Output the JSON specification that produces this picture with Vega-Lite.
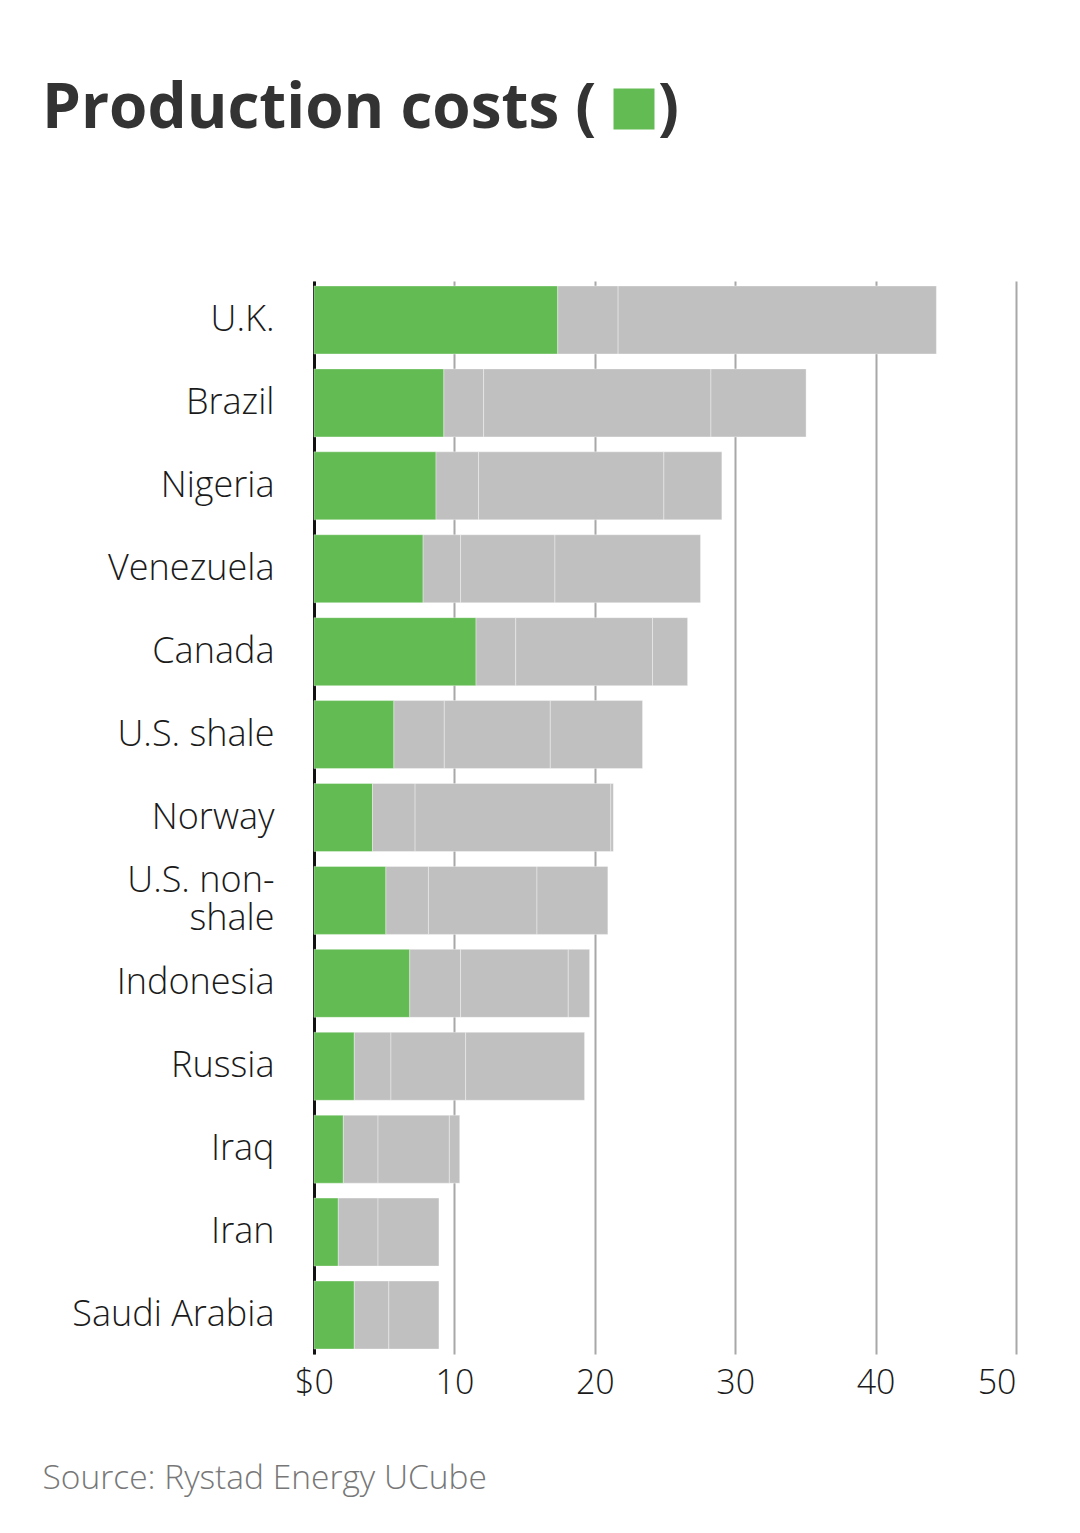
{
  "$schema": "https://vega.github.io/schema/vega-lite/v6.json",
  "autosize": {"type": "none"},
  "width": 702,
  "height": 1073,
  "padding": {"left": 314, "top": 281, "right": 64, "bottom": 179},
  "background": "white",
  "config": {"view": {"stroke": null}},
  "data": {"values": [
    {"country": "U.K.", "seg": "Production costs", "ord": 1, "v": 17.36},
    {"country": "U.K.", "seg": "Administrative and transport", "ord": 2, "v": 4.30},
    {"country": "U.K.", "seg": "Capital spending", "ord": 3, "v": 22.67},
    {"country": "Brazil", "seg": "Production costs", "ord": 1, "v": 9.25},
    {"country": "Brazil", "seg": "Administrative and transport", "ord": 2, "v": 2.83},
    {"country": "Brazil", "seg": "Capital spending", "ord": 3, "v": 16.19},
    {"country": "Brazil", "seg": "Gross taxes", "ord": 4, "v": 6.78},
    {"country": "Nigeria", "seg": "Production costs", "ord": 1, "v": 8.69},
    {"country": "Nigeria", "seg": "Administrative and transport", "ord": 2, "v": 3.03},
    {"country": "Nigeria", "seg": "Capital spending", "ord": 3, "v": 13.20},
    {"country": "Nigeria", "seg": "Gross taxes", "ord": 4, "v": 4.13},
    {"country": "Venezuela", "seg": "Production costs", "ord": 1, "v": 7.77},
    {"country": "Venezuela", "seg": "Administrative and transport", "ord": 2, "v": 2.67},
    {"country": "Venezuela", "seg": "Capital spending", "ord": 3, "v": 6.72},
    {"country": "Venezuela", "seg": "Gross taxes", "ord": 4, "v": 10.37},
    {"country": "Canada", "seg": "Production costs", "ord": 1, "v": 11.54},
    {"country": "Canada", "seg": "Administrative and transport", "ord": 2, "v": 2.83},
    {"country": "Canada", "seg": "Capital spending", "ord": 3, "v": 9.74},
    {"country": "Canada", "seg": "Gross taxes", "ord": 4, "v": 2.50},
    {"country": "U.S. shale", "seg": "Production costs", "ord": 1, "v": 5.69},
    {"country": "U.S. shale", "seg": "Administrative and transport", "ord": 2, "v": 3.59},
    {"country": "U.S. shale", "seg": "Capital spending", "ord": 3, "v": 7.55},
    {"country": "U.S. shale", "seg": "Gross taxes", "ord": 4, "v": 6.57},
    {"country": "Norway", "seg": "Production costs", "ord": 1, "v": 4.17},
    {"country": "Norway", "seg": "Administrative and transport", "ord": 2, "v": 3.03},
    {"country": "Norway", "seg": "Capital spending", "ord": 3, "v": 13.94},
    {"country": "Norway", "seg": "Gross taxes", "ord": 4, "v": 0.18},
    {"country": "U.S. non-shale", "seg": "Production costs", "ord": 1, "v": 5.12},
    {"country": "U.S. non-shale", "seg": "Administrative and transport", "ord": 2, "v": 3.03},
    {"country": "U.S. non-shale", "seg": "Capital spending", "ord": 3, "v": 7.73},
    {"country": "U.S. non-shale", "seg": "Gross taxes", "ord": 4, "v": 5.05},
    {"country": "Indonesia", "seg": "Production costs", "ord": 1, "v": 6.82},
    {"country": "Indonesia", "seg": "Administrative and transport", "ord": 2, "v": 3.62},
    {"country": "Indonesia", "seg": "Capital spending", "ord": 3, "v": 7.67},
    {"country": "Indonesia", "seg": "Gross taxes", "ord": 4, "v": 1.52},
    {"country": "Russia", "seg": "Production costs", "ord": 1, "v": 2.87},
    {"country": "Russia", "seg": "Administrative and transport", "ord": 2, "v": 2.61},
    {"country": "Russia", "seg": "Capital spending", "ord": 3, "v": 5.32},
    {"country": "Russia", "seg": "Gross taxes", "ord": 4, "v": 8.47},
    {"country": "Iraq", "seg": "Production costs", "ord": 1, "v": 2.09},
    {"country": "Iraq", "seg": "Administrative and transport", "ord": 2, "v": 2.47},
    {"country": "Iraq", "seg": "Capital spending", "ord": 3, "v": 5.08},
    {"country": "Iraq", "seg": "Gross taxes", "ord": 4, "v": 0.74},
    {"country": "Iran", "seg": "Production costs", "ord": 1, "v": 1.73},
    {"country": "Iran", "seg": "Administrative and transport", "ord": 2, "v": 2.83},
    {"country": "Iran", "seg": "Capital spending", "ord": 3, "v": 4.34},
    {"country": "Saudi Arabia", "seg": "Production costs", "ord": 1, "v": 2.87},
    {"country": "Saudi Arabia", "seg": "Administrative and transport", "ord": 2, "v": 2.46},
    {"country": "Saudi Arabia", "seg": "Capital spending", "ord": 3, "v": 3.57}
  ]},
  "mark": {"type": "bar", "stroke": "#ffffff", "strokeWidth": 1, "strokeOpacity": 0.35},
  "encoding": {
    "y": {
      "field": "country", "type": "nominal",
      "sort": ["U.K.", "Brazil", "Nigeria", "Venezuela", "Canada", "U.S. shale", "Norway", "U.S. non-shale", "Indonesia", "Russia", "Iraq", "Iran", "Saudi Arabia"],
      "scale": {"paddingInner": 0.18, "paddingOuter": 0.06},
      "axis": {
        "title": null, "ticks": false, "grid": false,
        "domain": true, "domainColor": "#111111", "domainWidth": 3,
        "labelFont": "Open Sans", "labelFontWeight": 300, "labelFontSize": 36, "labelColor": "#1a1a1a",
        "labelPadding": 40, "labelLimit": 400, "labelLineHeight": 38,
        "labelOffset": {"condition": {"test": "datum.value == 'U.S. non-shale'", "value": -19}, "value": 0},
        "labelExpr": "datum.value == 'U.S. non-shale' ? ['U.S. non-', 'shale'] : datum.label"
      }
    },
    "x": {
      "field": "v", "type": "quantitative", "stack": "zero",
      "scale": {"domain": [0, 50], "nice": false},
      "axis": {
        "values": [0, 10, 20, 30, 40, 50],
        "domain": false, "ticks": false,
        "grid": true, "gridColor": "#a8a8a8", "gridWidth": 2,
        "labelFont": "Open Sans", "labelFontWeight": 300, "labelFontSize": 34, "labelColor": "#1a1a1a",
        "labelPadding": 12,
        "labelExpr": "datum.value == 0 ? '$0' : datum.label",
        "labelAlign": {"condition": {"test": "datum.value == 50", "value": "right"}, "value": "center"},
        "title": "Source: Rystad Energy UCube",
        "titleX": -272, "titleY": 134, "titleAlign": "left", "titleAnchor": null, "titleBaseline": "alphabetic",
        "titleFont": "Open Sans", "titleFontWeight": 300, "titleFontSize": 33.5, "titleColor": "#777777"
      }
    },
    "color": {
      "field": "seg", "type": "nominal",
      "scale": {"domain": ["Production costs", "Administrative and transport", "Capital spending", "Gross taxes"], "range": ["#63bb53", "#c0c0c0", "#c0c0c0", "#c0c0c0"]},
      "legend": {
        "values": ["Production costs"],
        "orient": "none", "legendX": -272, "legendY": -203,
        "direction": "horizontal",
        "title": "Production costs (", "titleOrient": "left", "titleLimit": 1000,
        "titleFont": "Open Sans", "titleFontWeight": "bold", "titleFontSize": 62, "titleColor": "#333333",
        "titlePadding": 6, "titleBaseline": "middle",
        "symbolType": "square", "symbolSize": 1681, "symbolStrokeWidth": 0, "symbolOpacity": 1,
        "labelExpr": "')'", "labelFont": "Open Sans", "labelFontWeight": "bold", "labelFontSize": 62, "labelColor": "#333333",
        "labelOffset": -7, "padding": 0
      }
    },
    "order": {"field": "ord", "type": "quantitative"}
  }
}
